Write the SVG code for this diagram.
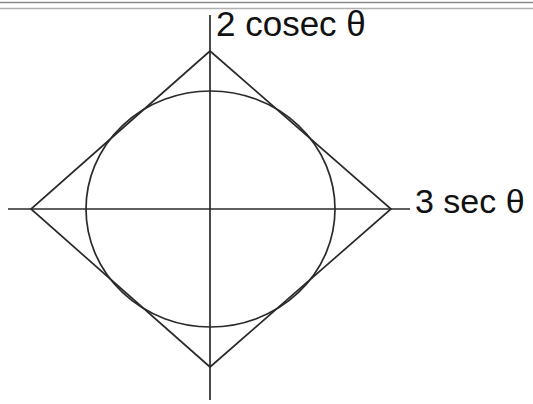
<svg xmlns="http://www.w3.org/2000/svg" width="533" height="404" viewBox="0 0 533 404">
<style>
.ln{stroke:#2a2a2a;stroke-width:1.7;fill:none}
.lbl{font-family:"Liberation Sans",Arial,sans-serif;font-size:34px;fill:#111}
</style>
<rect width="533" height="404" fill="#fff"/>
<line x1="0" y1="2.5" x2="533" y2="2.5" stroke="#8a8a8a" stroke-width="1.5"/>
<line x1="0" y1="8.5" x2="533" y2="8.5" stroke="#b0b0b0" stroke-width="1.5"/>
<g id="axes">
<line class="ln" x1="8" y1="209" x2="410" y2="209"/>
<line class="ln" x1="210" y1="15" x2="210" y2="400"/>
</g>
<g id="diamond">
<polygon class="ln" points="210,51 391,209 210,367 31,209"/>
</g>
<g id="ellipse">
<ellipse class="ln" cx="210.5" cy="209" rx="124.5" ry="118"/>
</g>
<g id="labels">
<text class="lbl" x="216" y="36" style="font-size:35px">2 cosec θ</text>
<text class="lbl" x="415" y="213">3 sec θ</text>
</g>
</svg>
